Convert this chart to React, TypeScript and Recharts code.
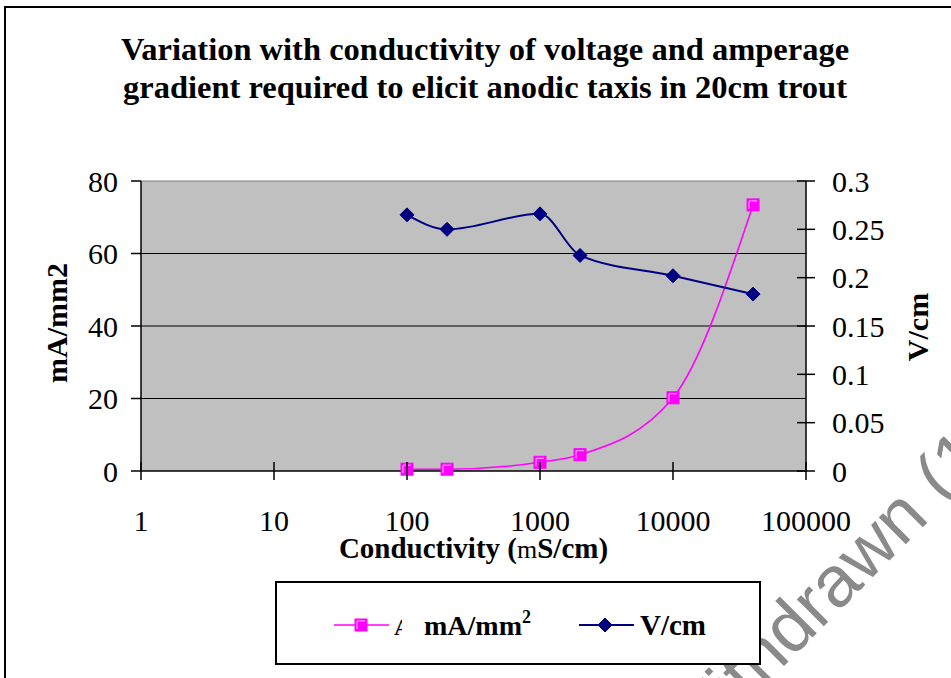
import React from 'react';
import { LineChart, Line, XAxis, YAxis, CartesianGrid, ReferenceLine } from 'recharts';

const conductivity = [100, 200, 1000, 2000, 10000, 40000];
const currentDensity = [0.5, 0.5, 2.4, 4.5, 20.2, 73.4];
const voltageGradient = [0.265, 0.25, 0.266, 0.223, 0.202, 0.183];

const xTicks = [1, 10, 100, 1000, 10000, 100000];
const leftTicks = [0, 20, 40, 60, 80];
const rightTicks = [0, 0.05, 0.1, 0.15, 0.2, 0.25, 0.3];
const gridValues = [20, 40, 60];

const titleLines = [
  'Variation with conductivity of voltage and amperage',
  'gradient required to elicit anodic taxis in 20cm trout',
];

const seriesNames = { current: 'mA/mm', voltage: 'V/cm' };

const data = conductivity.map((c, i) => ({
  c,
  current: currentDensity[i],
  voltage: voltageGradient[i],
}));

const SERIF = '"Liberation Serif", "Times New Roman", serif';
const PINK = '#FF00FF';
const NAVY = '#000080';

const SquareDot = (props: any) => {
  const { cx, cy, index } = props;
  if (cx == null || cy == null) return <g key={`s${index}`} />;
  const s = 6;
  return (
    <g key={`s${index}`}>
      <rect x={cx - s} y={cy - s} width={2 * s} height={2 * s} fill={PINK} stroke={PINK} strokeWidth={1} />
      <path d={`M${cx - s + 2},${cy + s - 2} L${cx - s + 2},${cy - s + 2} L${cx + s - 2},${cy - s + 2}`} stroke="#FFB8FF" strokeWidth={1} fill="none" />
    </g>
  );
};

const DiamondDot = (props: any) => {
  const { cx, cy, index } = props;
  if (cx == null || cy == null) return <g key={`d${index}`} />;
  const r = 7;
  return (
    <polygon
      key={`d${index}`}
      points={`${cx},${cy - r} ${cx + r},${cy} ${cx},${cy + r} ${cx - r},${cy}`}
      fill={NAVY}
      stroke={NAVY}
      strokeWidth={1}
    />
  );
};

const XTick = (props: any) => {
  const { x, y, payload } = props;
  return (
    <g>
      <line x1={x} x2={x} y1={y - 9} y2={y + 9} stroke="#000" strokeWidth={1.5} />
      <text x={x} y={y + 60} textAnchor="middle" fontFamily={SERIF} fontSize={30} fill="#000">
        {payload.value}
      </text>
    </g>
  );
};

const RightTick = (props: any) => {
  const { x, y, payload } = props;
  return (
    <g>
      <line x1={x - 9} x2={x + 9} y1={y} y2={y} stroke="#000" strokeWidth={1.5} />
      <text x={x + 26} y={y} dy="0.35em" textAnchor="start" fontFamily={SERIF} fontSize={30} fill="#000">
        {payload.value}
      </text>
    </g>
  );
};

const XLabel = (props: any) => {
  const vb = props.viewBox || {};
  const cx = vb.x + vb.width / 2;
  return (
    <text x={cx} y={vb.y + 87} textAnchor="middle" fontFamily={SERIF} fontSize={29} fontWeight="bold" fill="#000">
      Conductivity (<tspan fontWeight="normal" fontSize={26}>m</tspan>S/cm)
    </text>
  );
};

const LeftLabel = (props: any) => {
  const vb = props.viewBox || {};
  const x = vb.x + 67;
  const y = vb.y + vb.height / 2 - 3;
  return (
    <text x={x} y={y} transform={`rotate(-90, ${x}, ${y})`} textAnchor="middle" fontFamily={SERIF} fontSize={30} fontWeight="bold" fill="#000">
      mA/mm2
    </text>
  );
};

const RightLabel = (props: any) => {
  const vb = props.viewBox || {};
  const x = vb.x + 122;
  const y = vb.y + vb.height / 2 + 1;
  return (
    <text x={x} y={y} transform={`rotate(-90, ${x}, ${y})`} textAnchor="middle" fontFamily={SERIF} fontSize={30} fontWeight="bold" fill="#000">
      V/cm
    </text>
  );
};

export default function App() {
  return (
    <div style={{ position: 'absolute', left: 0, top: 0, width: 951, height: 678, background: '#fff', overflow: 'hidden' }}>
      <div
        style={{
          position: 'absolute',
          left: 4,
          top: 6,
          width: 1200,
          height: 1200,
          borderLeft: '2px solid #000',
          borderTop: '2px solid #000',
        }}
      />
      <svg width={951} height={120} style={{ position: 'absolute', left: 0, top: 0 }}>
        {titleLines.map((t, i) => (
          <text key={i} x={485} y={60 + i * 38} textAnchor="middle" fontFamily={SERIF} fontSize={32.5} fontWeight="bold" fill="#000">
            {t}
          </text>
        ))}
      </svg>
      <div style={{ position: 'absolute', left: 0, top: 0 }}>
        <LineChart width={951} height={678} data={data} margin={{ top: 181, right: 0, bottom: 0, left: 0 }}>
          <CartesianGrid horizontal={false} vertical={false} fill="#C0C0C0" yAxisId="left" />
          <XAxis
            dataKey="c"
            type="number"
            scale="log"
            domain={[1, 100000]}
            ticks={xTicks}
            allowDataOverflow
            height={207}
            tickLine={false}
            tickSize={0}
            tickMargin={0}
            tick={XTick}
            interval={0}
            axisLine={{ stroke: '#000', strokeWidth: 1.5 }}
            label={XLabel}
          />
          <YAxis
            yAxisId="left"
            orientation="left"
            domain={[0, 80]}
            ticks={leftTicks}
            width={141}
            tickSize={10}
            tickMargin={13}
            interval={0}
            tickLine={{ stroke: '#000', strokeWidth: 1.5 }}
            axisLine={{ stroke: '#000', strokeWidth: 1.5 }}
            tick={{ fontFamily: SERIF, fontSize: 30, fill: '#000' }}
            label={LeftLabel}
          />
          <YAxis
            yAxisId="right"
            orientation="right"
            domain={[0, 0.3]}
            ticks={rightTicks}
            width={145}
            tickLine={false}
            tickSize={0}
            tickMargin={0}
            interval={0}
            tick={RightTick}
            axisLine={{ stroke: '#000', strokeWidth: 1.5 }}
            label={RightLabel}
          />
          {gridValues.map((v) => (
            <ReferenceLine key={v} yAxisId="left" y={v} stroke="#000" strokeWidth={1.2} />
          ))}
          <ReferenceLine yAxisId="left" y={80} stroke="#808080" strokeWidth={1.2} />
          <Line
            yAxisId="left"
            type="monotone"
            dataKey="current"
            stroke={PINK}
            strokeWidth={1.6}
            dot={SquareDot}
            activeDot={false}
            isAnimationActive={false}
          />
          <Line
            yAxisId="right"
            type="monotone"
            dataKey="voltage"
            stroke={NAVY}
            strokeWidth={2}
            dot={DiamondDot}
            activeDot={false}
            isAnimationActive={false}
          />
        </LineChart>
      </div>
      <svg width={951} height={678} style={{ position: 'absolute', left: 0, top: 0, pointerEvents: 'none' }}>
        <text
          x={690}
          y={760}
          transform="rotate(-45, 690, 760)"
          fontFamily='"Liberation Sans", Arial, sans-serif'
          fontSize={72}
          fill="#8a8a8a"
        >
          Withdrawn (1
        </text>
      </svg>
      <svg
        width={486}
        height={84}
        style={{ position: 'absolute', left: 275, top: 581, background: '#fff', border: '2px solid #000', boxSizing: 'border-box' }}
      >
        <g transform="translate(-275, -581)">
          <line x1={332} x2={387} y1={623} y2={623} stroke={PINK} strokeWidth={1.6} />
          <SquareDot cx={359} cy={623} index={99} />
          <clipPath id="partialA">
            <rect x={392} y={612} width={8} height={24} />
          </clipPath>
          <text x={392} y={633} fontFamily={SERIF} fontSize={24} fontWeight="bold" fill="#000" clipPath="url(#partialA)">
            A
          </text>
          <text x={422} y={633} fontFamily={SERIF} fontSize={28} fontWeight="bold" fill="#000">
            {seriesNames.current}
            <tspan dy={-12} fontSize={18}>2</tspan>
          </text>
          <line x1={577} x2={632} y1={623} y2={623} stroke={NAVY} strokeWidth={2} />
          <DiamondDot cx={603} cy={623} index={98} />
          <text x={638} y={633} fontFamily={SERIF} fontSize={29} fontWeight="bold" fill="#000">
            {seriesNames.voltage}
          </text>
        </g>
      </svg>
    </div>
  );
}
